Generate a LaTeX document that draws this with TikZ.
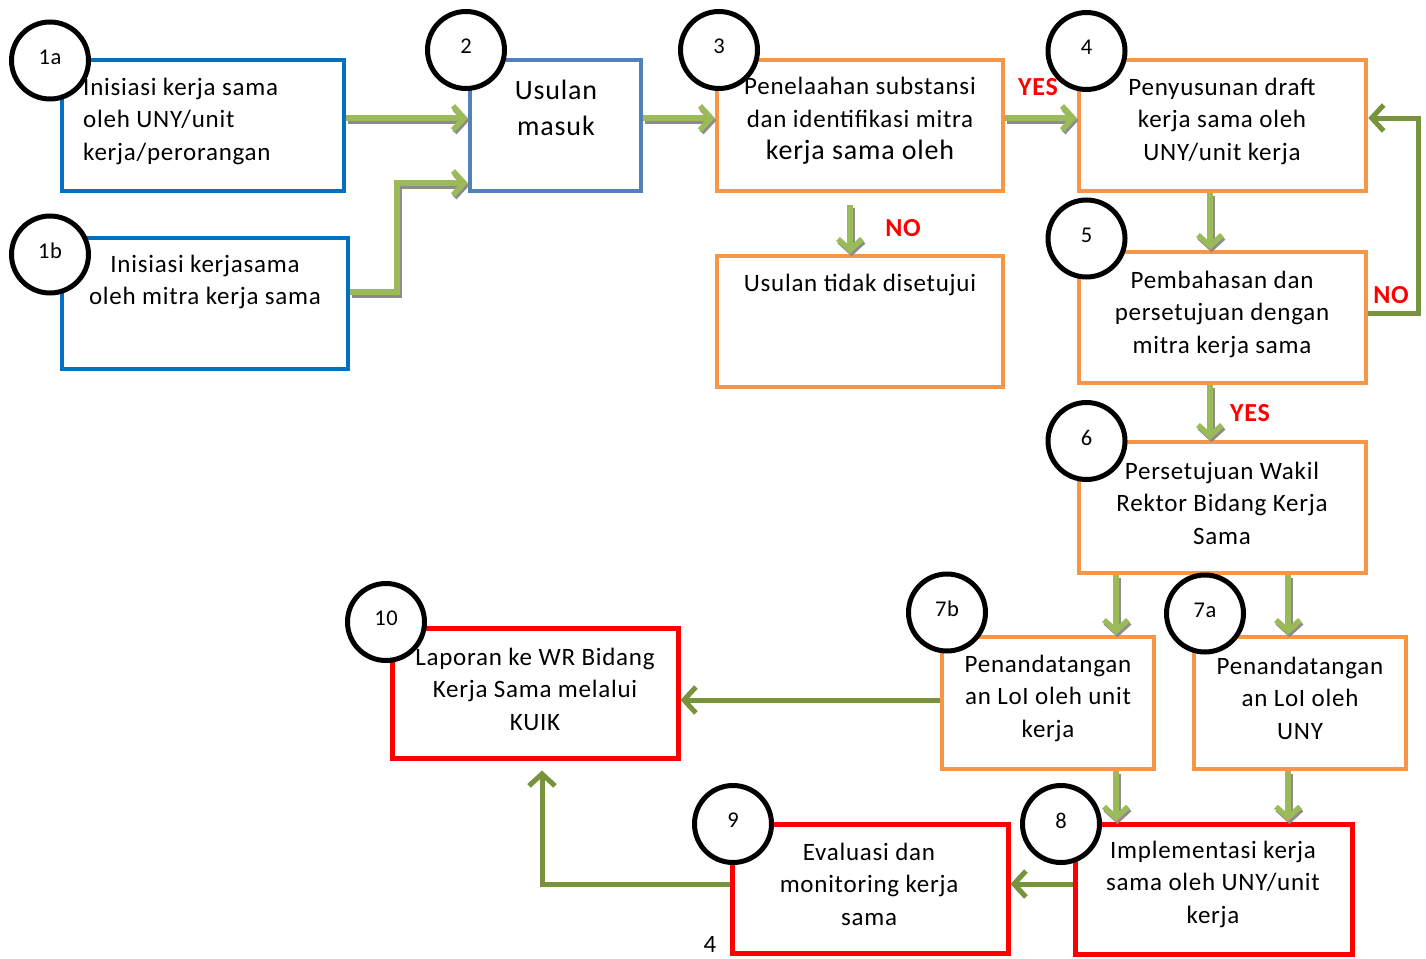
\documentclass[tikz,border=0pt]{standalone}
\usepackage{fontspec}
\setmainfont{Carlito}[LetterSpace=3]
\usetikzlibrary{arrows.meta,calc}
\definecolor{cblue}{HTML}{0070C0}
\definecolor{cbluetwo}{HTML}{4F81BD}
\definecolor{corange}{HTML}{F79646}
\definecolor{cred}{HTML}{FF0000}
\definecolor{cgreen}{HTML}{9BBB59}
\definecolor{cdgreen}{HTML}{77933C}
\definecolor{cshadow}{HTML}{8C8C8C}
\newcommand\garrowpath[1]{\draw[gshadow] #1; \draw[garr] #1;}
\begin{document}
\begin{tikzpicture}[x=1pt,y=-1pt,
  boxbase/.style={draw, line width=4.5pt, inner sep=0pt, minimum height=131pt},
  bluebox/.style={boxbase, draw=cblue},
  bluetwobox/.style={boxbase, draw=cbluetwo},
  orangebox/.style={boxbase, draw=corange},
  redbox/.style={boxbase, draw=cred, line width=5pt},
  num/.style={circle, draw=black, fill=white, line width=5pt, minimum size=77pt, inner sep=0pt,
    font=\fontsize{22.5}{26}\selectfont, text depth=7pt},
  txt/.style={align=center, inner sep=0pt, font=\fontsize{25}{32.5}\selectfont},
  lbl/.style={text=cred, inner sep=0pt, font=\fontsize{26}{30}\selectfont\bfseries},
  garr/.style={draw=cgreen, line width=6pt, -{Straight Barb[length=11pt,width=24pt,line width=5.5pt]}},
  gshadow/.style={draw=cshadow, line width=6pt, transform canvas={shift={(1.5pt,-2.5pt)}},
    -{Straight Barb[length=11pt,width=24pt,line width=5.5pt]}},
  darr/.style={draw=cdgreen, line width=5pt, -{Straight Barb[length=12pt,width=26pt,line width=5pt]}}
]
\useasboundingbox (0,0) rectangle (1426,958);

% boxes
\node[bluebox, minimum width=282pt] (b1a) at (203,125.5) {};
\node[bluebox, minimum width=286pt] (b1b) at (205,303.5) {};
\node[bluetwobox, minimum width=171pt] (b2) at (555.5,125.5) {};
\node[orangebox, minimum width=286pt] (b3) at (860,125.5) {};
\node[orangebox, minimum width=286pt] (bno) at (860,321.5) {};
\node[orangebox, minimum width=287pt] (b4) at (1222.5,125.5) {};
\node[orangebox, minimum width=287pt] (b5) at (1222.5,317.5) {};
\node[orangebox, minimum width=287pt] (b6) at (1222.5,507.5) {};
\node[orangebox, minimum width=212pt, minimum height=132pt] (b7b) at (1048,703) {};
\node[orangebox, minimum width=212pt, minimum height=132pt] (b7a) at (1300,703) {};
\node[redbox, minimum width=286pt, minimum height=130pt] (b10) at (535,693) {};
\node[redbox, minimum width=276pt, minimum height=129pt] (b9) at (870,888.5) {};
\node[redbox, minimum width=277pt, minimum height=130pt] (b8) at (1213.5,889) {};

% light green arrows with shadow
\garrowpath{([yshift=7.5pt]b1a.east) -- ([yshift=7.5pt]b2.west)}
\garrowpath{([yshift=11.5pt]b1b.east) -- ++(47,0) |- ([yshift=-57.5pt]b2.west)}
\garrowpath{([yshift=7.5pt]b2.east) -- ([yshift=7.5pt]b3.west)}
\garrowpath{([yshift=7.5pt]b3.east) -- ([yshift=7.5pt]b4.west)}
\garrowpath{([xshift=-10pt,yshift=-12pt]b3.south) -- ([xshift=-10pt]bno.north)}
\garrowpath{([xshift=-12.5pt]b4.south) -- ([xshift=-12.5pt]b5.north)}
\garrowpath{([xshift=-12.5pt]b5.south) -- ([xshift=-12.5pt]b6.north)}
\garrowpath{([xshift=-106.5pt]b6.south) -- ([xshift=68pt]b7b.north)}
\garrowpath{([xshift=65.5pt]b6.south) -- ([xshift=-12pt]b7a.north)}
\garrowpath{([xshift=68pt]b7b.south) -- ([xshift=-97.5pt]b8.north)}
\garrowpath{([xshift=-12pt]b7a.south) -- ([xshift=74.5pt]b8.north)}

% dark green arrows
\draw[darr] ([yshift=4.5pt]b5.east) -- ++(50,0) |- ([yshift=7.5pt]b4.east);
\draw[darr] ([yshift=3pt]b7b.west) -- ([yshift=-7pt]b10.east);
\draw[darr] ([yshift=5pt]b8.west) -- ([yshift=4.5pt]b9.east);
\draw[darr] ([yshift=4.5pt]b9.west) -| ([xshift=7pt,yshift=-10pt]b10.south);

% number circles
\node[num] (c1a) at (50,60.5) {1a};
\node[num] (c1b) at (50,254.5) {1b};
\node[num] (c2) at (466,50) {2};
\node[num] (c3) at (719,50) {3};
\node[num] (c4) at (1086.5,51) {4};
\node[num] (c5) at (1086.5,238.5) {5};
\node[num] (c6) at (1086.5,441) {6};
\node[num] (c7b) at (947,612.5) {7b};
\node[num] (c7a) at (1205,613.5) {7a};
\node[num] (c10) at (386,622) {10};
\node[num] (c9) at (733,824) {9};
\node[num] (c8) at (1061,824) {8};

% texts
\node[txt, align=left, anchor=west] (t1a) at (83,121) {Inisiasi kerja sama\\oleh UNY/unit\\kerja/perorangan};
\node[txt] (t1b) at (205,282) {Inisiasi kerjasama\\oleh mitra kerja sama};
\node[txt, font=\fontsize{28}{36}\selectfont] (t2) at (556,108) {Usulan\\masuk};
\node[txt] (t3) at (860,121) {Penelaahan substansi\\dan identifikasi mitra\\{\fontsize{28}{34}\selectfont kerja sama oleh}};
\node[txt] (tno) at (860,285) {Usulan tidak disetujui};
\node[txt] (t4) at (1222,121) {Penyusunan draft\\kerja sama oleh\\UNY/unit kerja};
\node[txt] (t5) at (1222,314) {Pembahasan dan\\persetujuan dengan\\mitra kerja sama};
\node[txt] (t6) at (1222,503) {Persetujuan Wakil\\Rektor Bidang Kerja\\Sama};
\node[txt] (t7b) at (1048,698) {Penandatangan\\an LoI oleh unit\\kerja};
\node[txt] (t7a) at (1300,698) {Penandatangan\\an LoI oleh\\UNY};
\node[txt] (t10) at (535,689) {Laporan ke WR Bidang\\Kerja Sama melalui\\KUIK};
\node[txt] (t9) at (869,884) {Evaluasi dan\\monitoring kerja\\sama};
\node[txt] (t8) at (1213,884) {Implementasi kerja\\sama oleh UNY/unit\\kerja};

% decision labels
\node[lbl] (yes1) at (1038,87) {YES};
\node[lbl] (no1) at (903,228) {NO};
\node[lbl] (no2) at (1391,295) {NO};
\node[lbl] (yes2) at (1250,413) {YES};

% page number
\node[inner sep=0pt, font=\fontsize{25}{30}\selectfont] (pg) at (710,944) {4};
\end{tikzpicture}
\end{document}
